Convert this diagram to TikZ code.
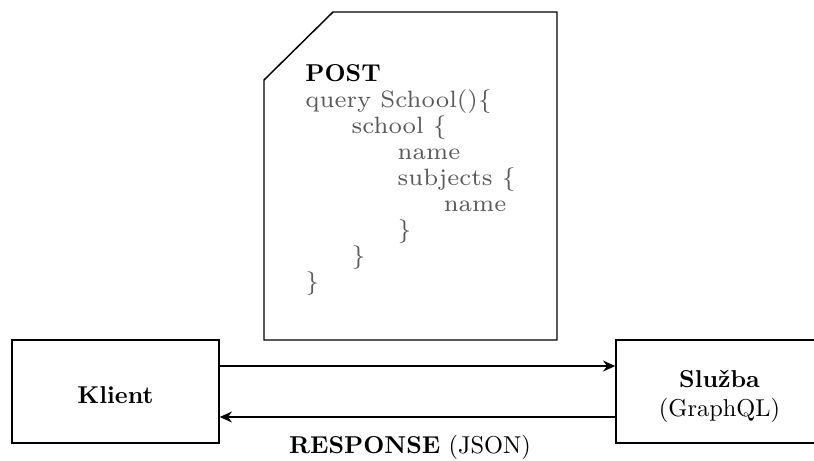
\documentclass[tikz,border=0pt]{standalone}
\usepackage{fontspec}
\usetikzlibrary{arrows.meta}
% wide small-design serif for the query listing
\newfontfamily\codefont{lmroman7-regular.otf}
\definecolor{codegray}{gray}{0.35}
\tikzset{
  box/.style={draw, line width=0.6pt, minimum width=84.9pt, minimum height=42.2pt, inner sep=0pt},
  lbl/.style={align=center, inner sep=0pt},
  flow/.style={draw, line width=0.6pt, -{Stealth[length=5pt,width=4.5pt]}},
  doc/.style={draw, line width=0.6pt, line join=miter},
  code/.style={anchor=north west, align=left, inner sep=0pt, text=codegray, font=\codefont\fontsize{9.7}{10.66}\selectfont}
}
\newcommand{\ind}[1]{\hspace*{#1}}
\begin{document}
\begin{tikzpicture}[x=0.41pt, y=-0.41pt]
  \useasboundingbox (0,0) rectangle (814,460);
  % request document with a cut corner
  \draw[doc] (264,80) -- (333,12) -- (557,12) -- (557,340) -- (264,340) -- cycle;
  \node[code] (query) at (305,64) {%
    \textcolor{black}{\normalfont\fontsize{10}{10.66}\selectfont\textbf{POST}}\\
    query School()\{\\
    \ind{18.9pt}school \{\\
    \ind{37.8pt}name\\
    \ind{37.8pt}subjects \{\\
    \ind{56.7pt}name\\
    \ind{37.8pt}\}\\
    \ind{18.9pt}\}\\
    \}};
  % client and service
  \node[box] (klient) at (115.5,391.5) {};
  \node[box] (sluzba) at (719.5,391.5) {};
  \node[lbl] (klienttext) at ([yshift=-1.6pt]klient.center) {\textbf{Klient}};
  \node[lbl] (sluzbatext) at ([yshift=-2pt]sluzba.center) {\textbf{Služba}\\(GraphQL)};
  % request and response connectors
  \draw[flow] ([yshift=10.45pt]klient.east) -- ([yshift=10.45pt]sluzba.west);
  \draw[flow] ([yshift=-10.45pt]sluzba.west) -- ([yshift=-10.45pt]klient.east);
  \node (resp) at (410,447) {\textbf{RESPONSE} (JSON)};
\end{tikzpicture}
\end{document}
